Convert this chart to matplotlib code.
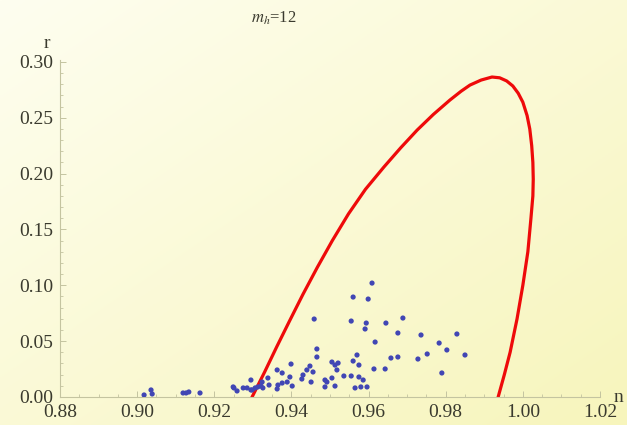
import matplotlib
matplotlib.use("Agg")
import matplotlib.pyplot as plt
import numpy as np
from matplotlib.ticker import MultipleLocator, FormatStrFormatter

# red boundary curve (n, r), traced from lower left, over the top, down to lower right
curve_n = [0.9298, 0.9330, 0.9362, 0.9395, 0.9430, 0.9467, 0.9506, 0.9548, 0.9592,
           0.9640, 0.9683, 0.9726, 0.9768, 0.9811, 0.9840, 0.9863, 0.9892, 0.9920,
           0.9940, 0.9958, 0.9974, 0.9988, 1.0000, 1.0011, 1.0018, 1.0023, 1.0026,
           1.0027, 1.0026, 1.0021, 1.0013, 1.0000, 0.9985, 0.9967, 0.9952, 0.9936]
curve_r = [0.0000, 0.0220, 0.0450, 0.0680, 0.0920, 0.1160, 0.1400, 0.1640, 0.1860,
           0.2060, 0.2230, 0.2390, 0.2530, 0.2659, 0.2738, 0.2793, 0.2838, 0.2865,
           0.2858, 0.2830, 0.2785, 0.2720, 0.2640, 0.2520, 0.2400, 0.2250, 0.2100,
           0.1950, 0.1800, 0.1600, 0.1300, 0.1000, 0.0700, 0.0400, 0.0200, 0.0000]

# blue scatter points
pts_n = [0.9018, 0.9036, 0.9039, 0.9119, 0.9127, 0.9134, 0.9163, 0.9249, 0.9251, 0.9259,
         0.9275, 0.9285, 0.9295, 0.9295, 0.9298, 0.9306, 0.9313, 0.9321, 0.9326, 0.9324,
         0.9339, 0.9342, 0.9363, 0.9376, 0.9363, 0.9365, 0.9376, 0.9389, 0.9396, 0.9402,
         0.9399, 0.9427, 0.9430, 0.9440, 0.9448, 0.9451, 0.9456, 0.9459, 0.9466, 0.9466,
         0.9487, 0.9487, 0.9492, 0.9505, 0.9505, 0.9513, 0.9518, 0.9521, 0.9513, 0.9536,
         0.9555, 0.9555, 0.9560, 0.9560, 0.9570, 0.9575, 0.9575, 0.9586, 0.9565, 0.9580,
         0.9596, 0.9594, 0.9591, 0.9599, 0.9609, 0.9614, 0.9617, 0.9643, 0.9645, 0.9658,
         0.9676, 0.9676, 0.9689, 0.9728, 0.9736, 0.9752, 0.9783, 0.9790, 0.9803, 0.9829,
         0.9850]
pts_r = [0.0018, 0.0063, 0.0027, 0.0036, 0.0036, 0.0045, 0.0036, 0.0090, 0.0081, 0.0054,
         0.0081, 0.0081, 0.0152, 0.0063, 0.0063, 0.0081, 0.0090, 0.0098, 0.0081, 0.0134,
         0.0170, 0.0107, 0.0242, 0.0215, 0.0072, 0.0107, 0.0125, 0.0134, 0.0179, 0.0098,
         0.0295, 0.0161, 0.0197, 0.0242, 0.0277, 0.0134, 0.0224, 0.0698, 0.0430, 0.0358,
         0.0152, 0.0090, 0.0134, 0.0313, 0.0170, 0.0286, 0.0242, 0.0304, 0.0098, 0.0188,
         0.0188, 0.0680, 0.0895, 0.0322, 0.0376, 0.0286, 0.0179, 0.0152, 0.0081, 0.0090,
         0.0090, 0.0662, 0.0609, 0.0877, 0.1020, 0.0251, 0.0492, 0.0251, 0.0662, 0.0349,
         0.0358, 0.0573, 0.0707, 0.0340, 0.0555, 0.0385, 0.0483, 0.0215, 0.0421, 0.0564,
         0.0376]

plt.rcParams['font.family'] = ['Liberation Serif', 'DejaVu Serif']
plt.rcParams['mathtext.fontset'] = 'stix'

fig = plt.figure(figsize=(6.27, 4.25), dpi=100)

# pale white-to-yellow background gradient
bg = fig.add_axes([0, 0, 1, 1], zorder=0)
gx, gy = np.meshgrid(np.linspace(0, 1, 200), np.linspace(0, 1, 200))
t = (gx + gy) / 2
c0 = np.array([254, 254, 240]) / 255
c1 = np.array([247, 245, 188]) / 255
img = c0 + (c1 - c0) * t[..., None]
bg.imshow(img, aspect='auto', extent=[0, 1, 0, 1], origin='upper')
bg.axis('off')

ax = fig.add_axes([0.0957, 0.0659, 0.8612, 0.7936], zorder=1)
ax.patch.set_alpha(0)

ax.plot(curve_n, curve_r, color='#ee0a0a', lw=2.3, solid_joinstyle='round', zorder=2)
ax.scatter(pts_n, pts_r, s=14, color='#4146b4', edgecolors='none', zorder=3)

ax.set_xlim(0.88, 1.02)
ax.set_ylim(0, 0.302)

for s in ['top', 'right']:
    ax.spines[s].set_visible(False)
axcol = '#c4c4a0'
for s in ['left', 'bottom']:
    ax.spines[s].set_color(axcol)
    ax.spines[s].set_linewidth(0.8)

ax.xaxis.set_major_locator(MultipleLocator(0.02))
ax.xaxis.set_minor_locator(MultipleLocator(0.005))
ax.yaxis.set_major_locator(MultipleLocator(0.05))
ax.yaxis.set_minor_locator(MultipleLocator(0.01))
ax.xaxis.set_major_formatter(FormatStrFormatter('%.2f'))
ax.yaxis.set_major_formatter(FormatStrFormatter('%.2f'))
ax.tick_params(which='major', direction='in', length=4, width=0.7, color=axcol,
               labelsize=14, labelcolor='#3a3a2e', pad=5)
ax.tick_params(which='minor', direction='in', length=2.5, width=0.6, color=axcol)
ax.tick_params(axis='x', pad=5)

fig.text(47 / 627, 1 - 43 / 425, 'r', fontsize=14, color='#3a3a2e', ha='center', va='center')
fig.text(618 / 627, 1 - 398 / 425, 'n', fontsize=14, color='#3a3a2e', ha='center', va='center')
fig.text(274 / 627, 1 - 18 / 425, r'$m_h$=12', fontsize=12, color='#3a3a2e',
         ha='center', va='center')

fig.savefig('out.png', dpi=100)
